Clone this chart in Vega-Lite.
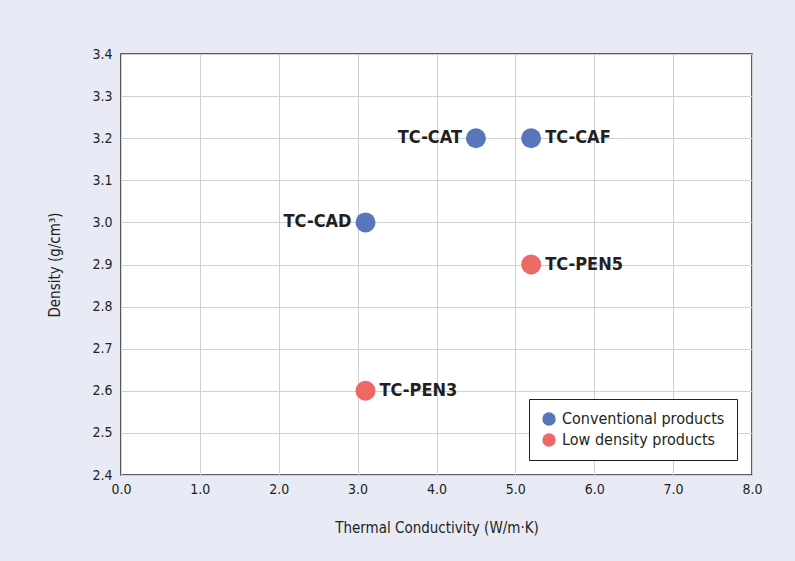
{
  "$schema": "https://vega.github.io/schema/vega-lite/v6.json",
  "width": 631,
  "height": 421,
  "autosize": {"type": "none"},
  "padding": {"left": 121, "top": 54, "right": 43, "bottom": 86},
  "background": "#e8ebf5",
  "config": {
    "font": "'DejaVu Sans Condensed', Roboto, sans-serif",
    "view": {"fill": "white", "stroke": "#2b2b2b", "strokeWidth": 1.5},
    "axis": {
      "domain": false,
      "ticks": false,
      "grid": true,
      "gridColor": "#d0d0d0",
      "gridWidth": 1,
      "labelFont": "'DejaVu Sans Condensed', Roboto, sans-serif",
      "labelFontSize": 14,
      "labelColor": "#231f20",
      "labelFlush": false,
      "titleFont": "'DejaVu Sans Condensed', Roboto, sans-serif",
      "titleFontSize": 15,
      "titleFontWeight": "normal",
      "titleColor": "#231f20"
    },
    "legend": {
      "labelFont": "'DejaVu Sans Condensed', Roboto, sans-serif",
      "labelFontSize": 16,
      "labelColor": "#231f20",
      "labelLimit": 300
    }
  },
  "data": {
    "values": [
      {"name": "TC-CAT", "tc": 4.5, "density": 3.2, "group": "Conventional products"},
      {"name": "TC-CAF", "tc": 5.2, "density": 3.2, "group": "Conventional products"},
      {"name": "TC-CAD", "tc": 3.1, "density": 3.0, "group": "Conventional products"},
      {"name": "TC-PEN5", "tc": 5.2, "density": 2.9, "group": "Low density products"},
      {"name": "TC-PEN3", "tc": 3.1, "density": 2.6, "group": "Low density products"}
    ]
  },
  "encoding": {
    "x": {
      "field": "tc", "type": "quantitative",
      "scale": {"domain": [0, 8], "nice": false},
      "axis": {"values": [0,1,2,3,4,5,6,7,8], "format": ".1f", "labelPadding": 7, "titlePadding": 24, "title": "Thermal Conductivity (W/m·K)"}
    },
    "y": {
      "field": "density", "type": "quantitative",
      "scale": {"domain": [2.4, 3.4], "nice": false, "zero": false},
      "axis": {"values": [2.4,2.5,2.6,2.7,2.8,2.9,3.0,3.1,3.2,3.3,3.4], "format": ".1f", "labelPadding": 9, "titlePadding": 29, "title": "Density (g/cm³)"}
    }
  },
  "layer": [
    {
      "mark": {"type": "circle", "size": 400, "opacity": 1},
      "encoding": {
        "color": {
          "field": "group", "type": "nominal",
          "scale": {"domain": ["Conventional products", "Low density products"], "range": ["#5a76bb", "#ec6a66"]},
          "legend": {
            "title": null,
            "orient": "bottom-right",
            "offset": 15,
            "fillColor": "white",
            "strokeColor": "#231f20",
            "padding": 12,
            "symbolSize": 180,
            "symbolOpacity": 1,
            "rowPadding": 5,
            "labelOffset": 5,
            "labelLimit": 300
          }
        }
      }
    },
    {
      "transform": [{"filter": "datum.name === 'TC-CAT' || datum.name === 'TC-CAD'"}],
      "mark": {"type": "text", "align": "right", "baseline": "middle", "dx": -14, "fontSize": 18, "fontWeight": "bold", "color": "#231f20"},
      "encoding": {"text": {"field": "name"}}
    },
    {
      "transform": [{"filter": "datum.name !== 'TC-CAT' && datum.name !== 'TC-CAD'"}],
      "mark": {"type": "text", "align": "left", "baseline": "middle", "dx": 14, "fontSize": 18, "fontWeight": "bold", "color": "#231f20"},
      "encoding": {"text": {"field": "name"}}
    }
  ]
}
